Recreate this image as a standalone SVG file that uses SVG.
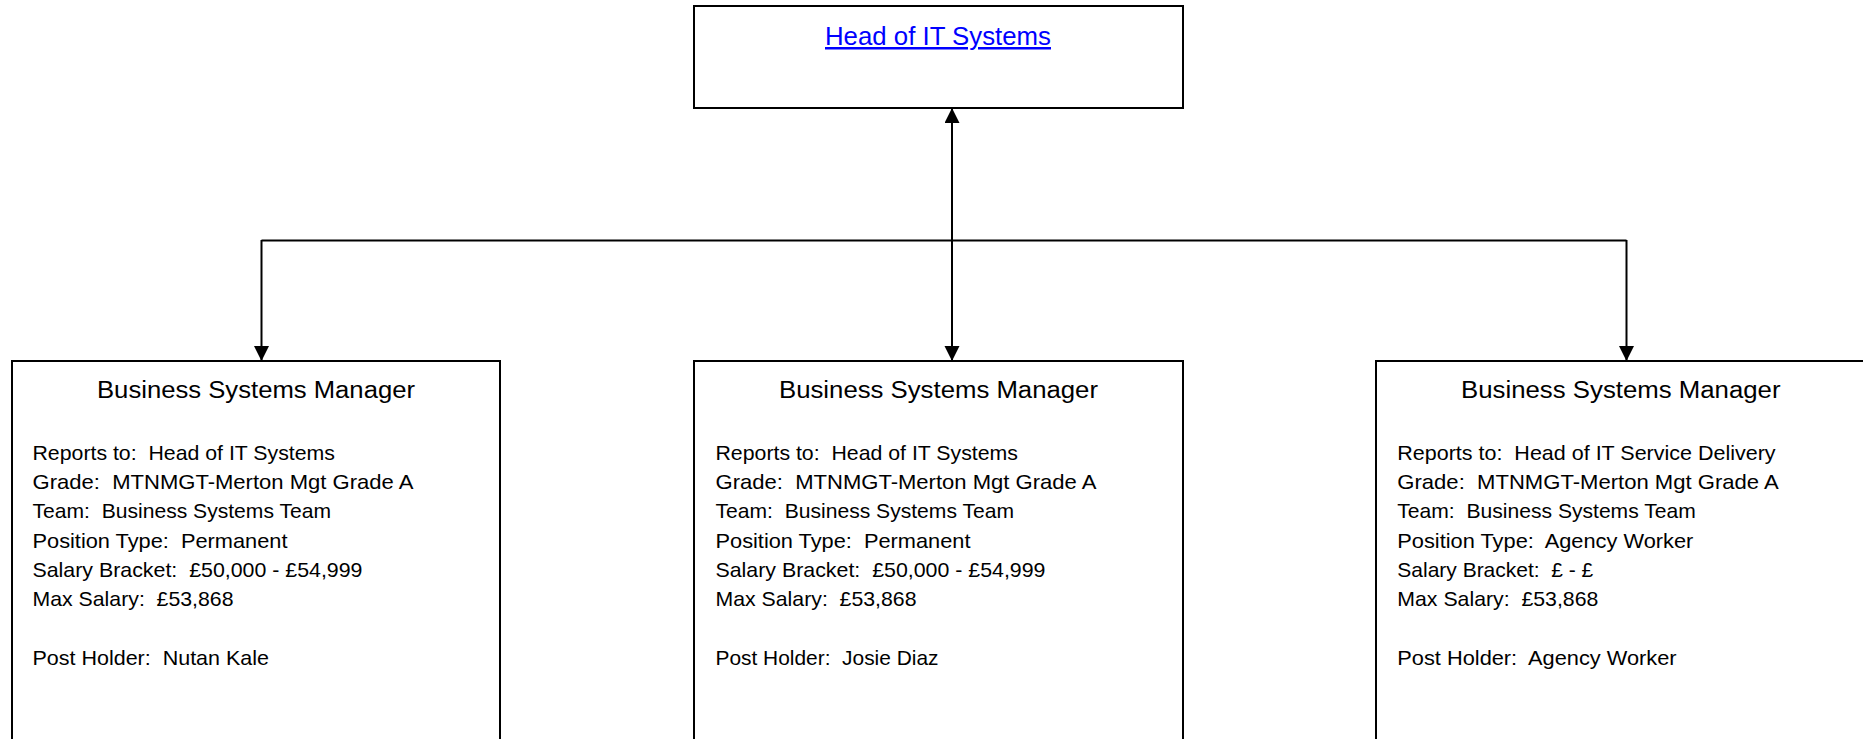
<svg xmlns="http://www.w3.org/2000/svg" width="1863" height="739" viewBox="0 0 1863 739">
<style>
  .box { fill: #ffffff; stroke: #000000; stroke-width: 2; }
  .conn { fill: none; stroke: #000000; stroke-width: 2; }
  text { font-family: "Liberation Sans", Arial, sans-serif; fill: #000000; white-space: pre; }
  .head { font-size: 25px; fill: #0000ff; text-decoration: underline; text-anchor: middle; }
  .title { font-size: 23.5px; text-anchor: middle; }
  .body { font-size: 21px; }
</style>
<defs>
  <marker id="arrow" markerUnits="userSpaceOnUse" markerWidth="16" markerHeight="16" refX="15" refY="7.5" orient="auto-start-reverse" viewBox="0 0 16 16">
    <path d="M0,0 L15,7.5 L0,15 Z" fill="#000000"/>
  </marker>
</defs>
<rect x="0" y="0" width="1863" height="739" fill="#ffffff"/>

<g id="connectors">
  <line class="conn" x1="261.5" y1="240.5" x2="1626.5" y2="240.5"/>
  <line class="conn" x1="952" y1="108" x2="952" y2="361" marker-start="url(#arrow)" marker-end="url(#arrow)"/>
  <line class="conn" x1="261.5" y1="240" x2="261.5" y2="361" marker-end="url(#arrow)"/>
  <line class="conn" x1="1626.5" y1="240" x2="1626.5" y2="361" marker-end="url(#arrow)"/>
</g>

<g id="head-of-it-systems">
  <rect class="box" x="694" y="6" width="489" height="102"/>
  <text class="head" x="938" y="45" textLength="226" lengthAdjust="spacingAndGlyphs">Head of IT Systems</text>
</g>

<g id="bsm-left">
  <rect class="box" x="12" y="361" width="488" height="400"/>
  <text class="title" x="256" y="398" textLength="318" lengthAdjust="spacingAndGlyphs">Business Systems Manager</text>
  <text class="body" x="32.5" y="460" textLength="302.5" lengthAdjust="spacingAndGlyphs">Reports to:  Head of IT Systems</text>
  <text class="body" x="32.5" y="489.2" textLength="381" lengthAdjust="spacingAndGlyphs">Grade:  MTNMGT-Merton Mgt Grade A</text>
  <text class="body" x="32.5" y="518.4" textLength="298.5" lengthAdjust="spacingAndGlyphs">Team:  Business Systems Team</text>
  <text class="body" x="32.5" y="547.6" textLength="255" lengthAdjust="spacingAndGlyphs">Position Type:  Permanent</text>
  <text class="body" x="32.5" y="576.8" textLength="330" lengthAdjust="spacingAndGlyphs">Salary Bracket:  £50,000 - £54,999</text>
  <text class="body" x="32.5" y="606" textLength="201" lengthAdjust="spacingAndGlyphs">Max Salary:  £53,868</text>
  <text class="body" x="32.5" y="664.5" textLength="236.5" lengthAdjust="spacingAndGlyphs">Post Holder:  Nutan Kale</text>
</g>

<g id="bsm-middle">
  <rect class="box" x="694" y="361" width="489" height="400"/>
  <text class="title" x="938.5" y="398" textLength="319" lengthAdjust="spacingAndGlyphs">Business Systems Manager</text>
  <text class="body" x="715.5" y="460" textLength="302.5" lengthAdjust="spacingAndGlyphs">Reports to:  Head of IT Systems</text>
  <text class="body" x="715.5" y="489.2" textLength="381" lengthAdjust="spacingAndGlyphs">Grade:  MTNMGT-Merton Mgt Grade A</text>
  <text class="body" x="715.5" y="518.4" textLength="298.5" lengthAdjust="spacingAndGlyphs">Team:  Business Systems Team</text>
  <text class="body" x="715.5" y="547.6" textLength="255" lengthAdjust="spacingAndGlyphs">Position Type:  Permanent</text>
  <text class="body" x="715.5" y="576.8" textLength="330" lengthAdjust="spacingAndGlyphs">Salary Bracket:  £50,000 - £54,999</text>
  <text class="body" x="715.5" y="606" textLength="201" lengthAdjust="spacingAndGlyphs">Max Salary:  £53,868</text>
  <text class="body" x="715.5" y="664.5" textLength="223" lengthAdjust="spacingAndGlyphs">Post Holder:  Josie Diaz</text>
</g>

<g id="bsm-right">
  <rect class="box" x="1376" y="361" width="489" height="400"/>
  <text class="title" x="1620.8" y="398" textLength="319.5" lengthAdjust="spacingAndGlyphs">Business Systems Manager</text>
  <text class="body" x="1397.3" y="460" textLength="378.3" lengthAdjust="spacingAndGlyphs">Reports to:  Head of IT Service Delivery</text>
  <text class="body" x="1397.3" y="489.2" textLength="381.5" lengthAdjust="spacingAndGlyphs">Grade:  MTNMGT-Merton Mgt Grade A</text>
  <text class="body" x="1397.3" y="518.4" textLength="298.5" lengthAdjust="spacingAndGlyphs">Team:  Business Systems Team</text>
  <text class="body" x="1397.3" y="547.6" textLength="296" lengthAdjust="spacingAndGlyphs">Position Type:  Agency Worker</text>
  <text class="body" x="1397.3" y="576.8" textLength="196" lengthAdjust="spacingAndGlyphs">Salary Bracket:  £ - £</text>
  <text class="body" x="1397.3" y="606" textLength="201" lengthAdjust="spacingAndGlyphs">Max Salary:  £53,868</text>
  <text class="body" x="1397.3" y="664.5" textLength="279.3" lengthAdjust="spacingAndGlyphs">Post Holder:  Agency Worker</text>
</g>
</svg>
